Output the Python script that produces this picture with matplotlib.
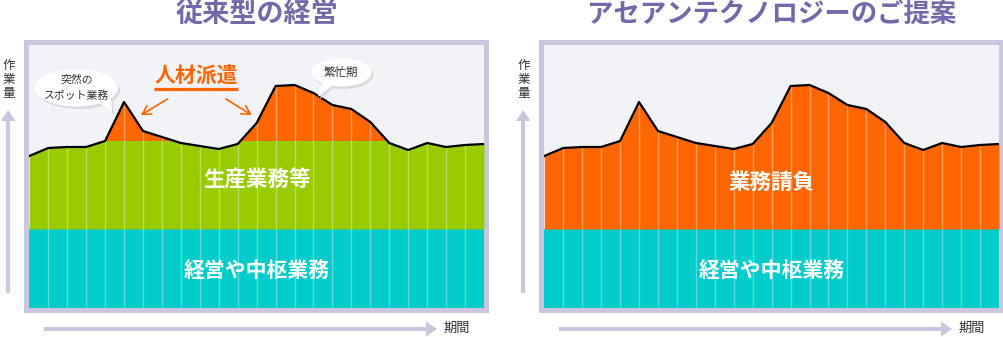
import numpy as np
import matplotlib.pyplot as plt
from matplotlib.patches import Rectangle, Ellipse, Polygon

plt.rcParams['font.family'] = ['Noto Sans CJK JP', 'DejaVu Sans']

# workload per period (same curve in both panels)
periods = np.arange(25)
work = [152, 160, 161, 161, 167, 206, 177, 171, 165, 162, 159, 164, 185,
        222, 223, 215, 203, 199, 186, 165, 158, 165, 161, 163, 164]
core_level = 79      # 経営や中枢業務
prod_level = 167     # 生産業務等
y_top = 263

titles = ['従来型の経営', 'アセアンテクノロジーのご提案']

PURPLE = '#7468a9'
LAVENDER = '#c9c6de'
CYAN = '#00cccc'
GREEN = '#99cc00'
ORANGE = '#ff6600'
BG = '#f2f3f6'

W, H = 1004, 337
fig = plt.figure(figsize=(W / 100, H / 100), dpi=100)

# pixel overlay behind the panels: frames, axis arrows, labels
bg = fig.add_axes([0, 0, 1, 1], zorder=0)
bg.set_xlim(0, W)
bg.set_ylim(H, 0)
bg.axis('off')

# pixel overlay in front: bubbles and callout
fg = fig.add_axes([0, 0, 1, 1], zorder=3)
fg.set_xlim(0, W)
fg.set_ylim(H, 0)
fg.axis('off')
fg.patch.set_alpha(0)


def axis_arrows(ox):
    # vertical 作業量 arrow
    bg.add_patch(Rectangle((ox + 6, 119), 4.5, 174, color=LAVENDER, lw=0))
    bg.add_patch(Polygon([(ox + 1, 121), (ox + 15.5, 121), (ox + 8.2, 110)],
                         color=LAVENDER, lw=0))
    for i, ch in enumerate('作業量'):
        bg.text(ox + 8.3, 65 + i * 14.5, ch, fontsize=9, color='#333333',
                ha='center', va='center')
    # horizontal 期間 arrow
    bg.add_patch(Rectangle((ox + 44, 326.8), 384, 4, color=LAVENDER, lw=0))
    bg.add_patch(Polygon([(ox + 426, 321.5), (ox + 426, 336.5), (ox + 437, 329)],
                         color=LAVENDER, lw=0))
    bg.text(ox + 456.5, 328.5, '期間', fontsize=9.5, color='#333333',
            ha='center', va='center')


def panel(ox, title, title_size, left_style):
    bg.add_patch(Rectangle((ox + 24, 40), 465, 273, color=LAVENDER, lw=0))
    bg.text(ox + 256.5, 14, title, fontsize=title_size, fontweight='bold',
            color=PURPLE, ha='center', va='center')
    axis_arrows(ox)

    ax = fig.add_axes([(ox + 29.3) / W, (H - 308) / H, 454.7 / W, 263 / H], zorder=1)
    ax.set_facecolor(BG)
    ax.set_xlim(0, 24)
    ax.set_ylim(0, y_top)
    ax.set_xticks([])
    ax.set_yticks([])
    for s in ax.spines.values():
        s.set_visible(False)

    w = np.array(work, dtype=float)
    ax.fill_between(periods, 0, core_level, color=CYAN, lw=0)
    if left_style:
        ax.fill_between(periods, core_level, w, color=GREEN, lw=0)
        ax.fill_between(periods, prod_level, w, where=w >= prod_level,
                        interpolate=True, color=ORANGE, lw=0)
        ax.text(12, (core_level + prod_level) / 2 + 5, '生産業務等', color='white',
                fontsize=15.5, fontweight='bold', ha='center', va='center')
    else:
        ax.fill_between(periods, core_level, w, color=ORANGE, lw=0)
        ax.text(12, (core_level + prod_level) / 2 + 3, '業務請負', color='white',
                fontsize=15.5, fontweight='bold', ha='center', va='center')
    ax.text(12, 38, '経営や中枢業務', color='white', fontsize=15,
            fontweight='bold', ha='center', va='center')

    for gx in range(1, 24):
        ax.axvline(gx, color='white', lw=1, alpha=0.35, zorder=2)
    ax.plot(periods, w, color='black', lw=1.6, zorder=3, solid_joinstyle='round')
    return ax


panel(0, titles[0], 19.5, True)
panel(515, titles[1], 19, False)


def bubble(cx, cy, bw, bh, tail):
    shadow = '#d9dade'
    fg.add_patch(Ellipse((cx + 2, cy + 2.5), bw, bh, color=shadow, lw=0))
    fg.add_patch(Polygon([(x + 2, y + 2) for x, y in tail], color=shadow, lw=0))
    fg.add_patch(Polygon(tail, color='white', lw=0))
    fg.add_patch(Ellipse((cx, cy), bw, bh, color='white', lw=0))


bubble(76.5, 88, 83, 37, [(99, 102), (111, 96), (112, 113)])
fg.text(77, 79.5, '突然の', fontsize=7.8, color='#333333', ha='center', va='center')
fg.text(76.5, 96, 'スポット業務', fontsize=7.8, color='#333333', ha='center', va='center')

bubble(341.5, 72.5, 60, 28, [(322, 82), (333, 85), (318, 97)])
fg.text(340.5, 72, '繁忙期', fontsize=8.3, color='#333333', ha='center', va='center')

# 人材派遣 callout with underline and two arrows
fg.text(196, 76, '人材派遣', fontsize=15, fontweight='bold', color=ORANGE,
        ha='center', va='center')
fg.plot([154, 238], [88.5, 88.5], color=ORANGE, lw=2.3, solid_capstyle='butt')
for start, end in [((170, 97.5), (138.5, 116.5)), ((223.5, 97.5), (254, 116.5))]:
    fg.annotate('', xy=end, xytext=start,
                arrowprops=dict(arrowstyle='->,head_length=0.6,head_width=0.35',
                                color=ORANGE, lw=1.2))

fig.savefig('out.png', dpi=100)
